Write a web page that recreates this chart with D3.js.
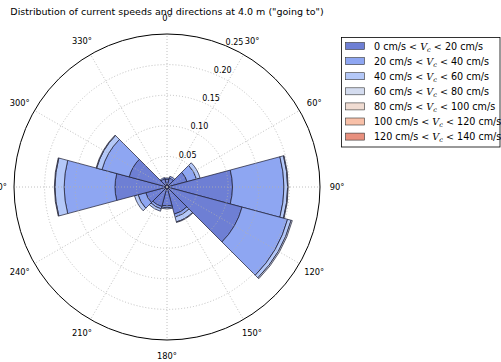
<!DOCTYPE html>
<html>
<head>
<meta charset="utf-8">
<script src="https://cdn.jsdelivr.net/npm/d3@7"></script>
<style>
    body { margin: 0; background: #fff; }
    text { font-family: "DejaVu Sans", sans-serif; }
    .grid { fill: none; stroke: #b0b0b0; stroke-width: 0.8; stroke-dasharray: 1,2; }
    .math { font-family: "DejaVu Serif", serif; font-style: italic; }
</style>
</head>
<body>
<div id="chart"></div>
<script>
// compass directions of the bins (degrees, "going to")
var directions = [0, 30, 60, 90, 120, 150, 180, 210, 240, 270, 300, 330];
// speed class edges (cm/s)
var speedEdges = [0, 20, 40, 60, 80, 100, 120, 140];
// frequency of each speed class per direction
var freq0_20    = [0.013, 0.015, 0.034, 0.107, 0.127, 0.046, 0.031, 0.033, 0.036, 0.085, 0.064, 0.014];
var freq20_40   = [0.002, 0.003, 0.016, 0.084, 0.077, 0.005, 0.003, 0.004, 0.013, 0.083, 0.046, 0.002];
var freq40_60   = [0.000, 0.000, 0.006, 0.006, 0.006, 0.008, 0.002, 0.004, 0.006, 0.015, 0.009, 0.000];
var freq60_80   = [0.000, 0.000, 0.000, 0.001, 0.002, 0.001, 0.000, 0.000, 0.000, 0.001, 0.001, 0.000];
var freq80_100  = [0, 0, 0, 0, 0, 0, 0, 0, 0, 0, 0, 0];
var freq100_120 = [0, 0, 0, 0, 0, 0, 0, 0, 0, 0, 0, 0];
var freq120_140 = [0, 0, 0, 0, 0, 0, 0, 0, 0, 0, 0, 0];
var speedFreqs = [freq0_20, freq20_40, freq40_60, freq60_80, freq80_100, freq100_120, freq120_140];
var classColors = ["#6e7fd4", "#8ea6f2", "#b4c8f8", "#d4dcef", "#f0dcd2", "#f8c0a8", "#e8907e"];
// axis ticks
var rTicks = [0.05, 0.10, 0.15, 0.20, 0.25];
var angleTicks = [0, 30, 60, 90, 120, 150, 180, 210, 240, 270, 300, 330];

var width = 501, height = 362;
var cx = 167, cy = 187, R = 153;
var binWidth = 30;

var svg = d3.select("#chart").append("svg")
    .attr("width", width)
    .attr("height", height);

var r = d3.scaleLinear().domain([0, 0.25]).range([0, R]);
var rad = function(deg) { return deg * Math.PI / 180; };

var g = svg.append("g").attr("transform", "translate(" + cx + "," + cy + ")");

// stacked bars, one patch per speed class
var arc = d3.arc();
var layers = [];
directions.forEach(function(dir, i) {
    var bottom = 0;
    speedFreqs.forEach(function(f, k) {
        if (f[i] > 0) {
            layers.push({dir: dir, k: k, y0: bottom, y1: bottom + f[i]});
        }
        bottom += f[i];
    });
});

g.append("g").selectAll("path")
    .data(layers)
    .enter().append("path")
    .attr("d", function(d) {
        return arc({
            innerRadius: r(d.y0),
            outerRadius: r(d.y1),
            startAngle: rad(d.dir - binWidth / 2),
            endAngle: rad(d.dir + binWidth / 2)
        });
    })
    .attr("fill", function(d) { return classColors[d.k]; })
    .attr("stroke", "#1a1a2e")
    .attr("stroke-width", 0.7)
    .attr("stroke-linejoin", "miter");

// grid
g.selectAll(".rgrid")
    .data(rTicks.slice(0, -1))
    .enter().append("circle")
    .attr("class", "grid")
    .attr("r", function(d) { return r(d); });

g.selectAll(".agrid")
    .data(angleTicks)
    .enter().append("line")
    .attr("class", "grid")
    .attr("x1", 0).attr("y1", 0)
    .attr("x2", function(d) { return R * Math.sin(rad(d)); })
    .attr("y2", function(d) { return -R * Math.cos(rad(d)); });

g.append("circle")
    .attr("r", R)
    .attr("fill", "none")
    .attr("stroke", "#000")
    .attr("stroke-width", 1);

// radial tick labels at 22.5 deg
g.selectAll(".rlabel")
    .data(rTicks)
    .enter().append("text")
    .attr("x", function(d) { return r(d) * Math.sin(rad(22.5)); })
    .attr("y", function(d) { return -r(d) * Math.cos(rad(22.5)) - 1; })
    .attr("font-size", 8)
    .text(d3.format(".2f"));

// angle labels
g.selectAll(".alabel")
    .data(angleTicks)
    .enter().append("text")
    .attr("x", function(d) { return 170 * Math.sin(rad(d)); })
    .attr("y", function(d) { return -169 * Math.cos(rad(d)); })
    .attr("text-anchor", "middle")
    .attr("dominant-baseline", "central")
    .attr("font-size", 8.3)
    .text(function(d) { return d + "°"; });

// title
svg.append("text")
    .attr("x", cx)
    .attr("y", 14.5)
    .attr("text-anchor", "middle")
    .attr("font-size", 9.5)
    .text("Distribution of current speeds and directions at 4.0 m (\"going to\")");

// legend
var leg = svg.append("g");
leg.append("rect")
    .attr("x", 341.5).attr("y", 37.5)
    .attr("width", 158.5).attr("height", 109.5)
    .attr("fill", "#fff")
    .attr("stroke", "#000")
    .attr("stroke-width", 0.8);

var rows = leg.selectAll(".row")
    .data(classColors)
    .enter().append("g")
    .attr("transform", function(d, i) { return "translate(0," + (46 + i * 15.1) + ")"; });

rows.append("rect")
    .attr("x", 345.5).attr("y", -3.5)
    .attr("width", 19).attr("height", 7)
    .attr("fill", function(d) { return d; })
    .attr("stroke", "#333")
    .attr("stroke-width", 0.6);

var labels = rows.append("text")
    .attr("x", 374)
    .attr("y", 3.5)
    .attr("font-size", 9.6);
labels.append("tspan").text(function(d, i) { return speedEdges[i] + " cm/s "; });
labels.append("tspan").attr("class", "math").text("< V");
labels.append("tspan").attr("class", "math").attr("font-size", 6.5).attr("dy", 2).text("c");
labels.append("tspan").attr("class", "math").attr("dy", -2).text(" <");
labels.append("tspan").text(function(d, i) { return " " + speedEdges[i + 1] + " cm/s"; });
</script>
</body>
</html>
